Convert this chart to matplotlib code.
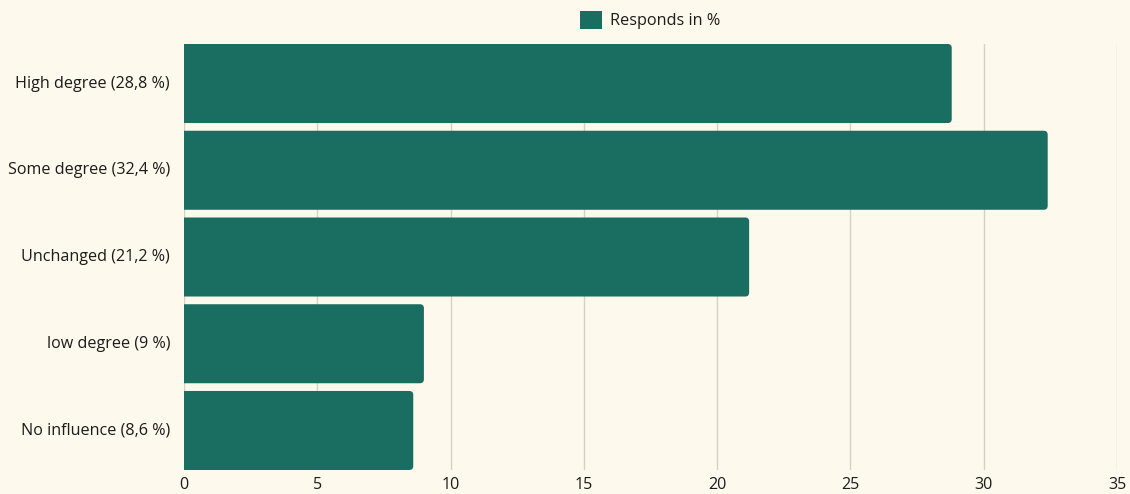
import matplotlib
matplotlib.use('Agg')
import matplotlib.pyplot as plt
from matplotlib.patches import FancyBboxPatch, Patch

categories = ['High degree (28,8 %)', 'Some degree (32,4 %)', 'Unchanged (21,2 %)',
              'low degree (9 %)', 'No influence (8,6 %)']
values = [28.8, 32.4, 21.2, 9.0, 8.6]
xticks = [0, 5, 10, 15, 20, 25, 30, 35]

bg = '#fdf9ec'
teal = '#1a6e61'
grid_c = '#d6d1c4'
txt_c = '#1c1c1c'

plt.rcParams['font.family'] = ['Open Sans', 'DejaVu Sans']

fig = plt.figure(figsize=(11.3, 4.94), dpi=100, facecolor=bg)
ax = fig.add_axes([184/1130, 24/494, (1117-184)/1130, (470-44)/494], facecolor=bg)

h = 0.911
ax.set_xlim(0, 35)
ax.set_ylim(len(categories) - 1 + h/2, -h/2)

# rounded bars: px -> data conversion for the corner radius
px_x = 35 / 933
px_y = (len(categories) - 1 + h) / 426
r = 4 * px_x
for i, v in enumerate(values):
    p = FancyBboxPatch((-1, i - h/2), v + 1, h,
                       boxstyle=f'round,pad=0,rounding_size={r}',
                       mutation_aspect=px_y / px_x,
                       fc=teal, ec='none', zorder=3, clip_on=True)
    ax.add_patch(p)

ax.set_xticks(xticks)
ax.set_yticks(range(len(categories)))
ax.set_yticklabels(categories)
ax.tick_params(length=0, labelsize=11.6, colors=txt_c)
ax.tick_params(axis='y', pad=10)
ax.tick_params(axis='x', pad=5)
for lbl in ax.get_yticklabels():
    lbl.set_y(lbl.get_position()[1])
    lbl.set_transform(lbl.get_transform() + matplotlib.transforms.ScaledTranslation(0, 2/100, fig.dpi_scale_trans))
ax.grid(axis='x', color=grid_c, lw=1, zorder=0)
for s in ax.spines.values():
    s.set_visible(False)

ax.legend(handles=[Patch(fc=teal, ec='none', label='Responds in %')],
          loc='lower center', bbox_to_anchor=(0.5, 1.0), frameon=False,
          fontsize=11.7, handlelength=1.35, handleheight=1.35, handletextpad=0.5,
          labelcolor=txt_c, borderaxespad=0.5)

plt.savefig('out.png', dpi=100, facecolor=bg)
